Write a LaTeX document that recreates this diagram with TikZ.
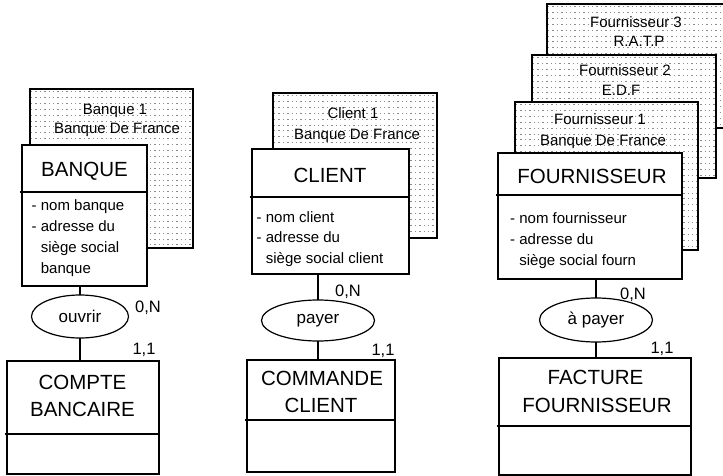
\documentclass[tikz,border=0pt]{standalone}
\usepackage{fontspec}
\setmainfont{Liberation Sans}
\usetikzlibrary{shapes.geometric}
\tikzset{
  box/.style={draw, line width=1.2pt, inner sep=0pt, outer sep=0pt, fill=white},
  rel/.style={ellipse, draw, line width=1.2pt, inner sep=0pt, outer sep=0pt, fill=white, font=\fontsize{17}{20}\selectfont},
  titletxt/.style={inner sep=0pt, anchor=base, font=\fontsize{20.5}{24}\selectfont},
  attr/.style={inner sep=0pt, anchor=base west, font=\fontsize{15}{18}\selectfont},
  cardtxt/.style={inner sep=0pt, anchor=base, font=\fontsize{15}{18}\selectfont},
  cardinal/.style={inner sep=0pt, anchor=base, font=\fontsize{16.5}{18}\selectfont},
  conn/.style={line width=1.2pt},
  dotrow/.style={black!45, line width=0.9pt, dash pattern=on 1.4pt off 3pt},
}
% #1 name, #2 x1, #3 y1, #4 x2, #5 y2 (y grows downwards)
\newcommand\mkcard[5]{%
  \node[box, anchor=north west, minimum width=#4-#2, minimum height=#5-#3] (#1) at (#2,#3) {};
  \begin{scope}
    \clip (#2,#3) rectangle (#4,#5);
    \foreach \k in {0,...,30}{
      \draw[dotrow] (#2+1,#3+2.5+5.9*\k) -- (#4,#3+2.5+5.9*\k);
    }
  \end{scope}
  \draw[line width=1.2pt] (#1.south west) rectangle (#1.north east);
}
\begin{document}
\begin{tikzpicture}[x=1pt,y=-1pt]
\useasboundingbox (0,0) rectangle (723,476);

% ---------- BANQUE ----------
\mkcard{cardb}{30}{89}{193}{248}
\node[cardtxt] (cb1) at (115,115) {Banque 1};
\node[cardtxt] (cb2) at (117,134) {Banque De France};

\node[box, minimum width=125, minimum height=141] (banque) at (84.5,215.5) {};
\draw[conn] ([xshift=-2.5pt]banque.west |- 0,192) -- (banque.east |- 0,192);
\node[titletxt] (tbanque) at (84.5,176.5) {BANQUE};
\node[attr] (ab1) at (31.5,211) {- nom banque};
\node[attr] (ab2) at (31.5,231.5) {- adresse du};
\node[attr] (ab3) at (31.5,252.5) {\phantom{- }siège social};
\node[attr] (ab4) at (31.5,273) {\phantom{- }banque};

\node[rel, minimum width=97, minimum height=43] (ouvrir) at (80,316.5) {ouvrir};
\node[cardinal] (nb1) at (148,312) {0,N};
\node[cardinal] (nb2) at (144,354) {1,1};

\node[box, minimum width=152, minimum height=113] (compte) at (83,417.5) {};
\draw[conn] ([xshift=-2.5pt]compte.west |- 0,434) -- (compte.east |- 0,434);
\node[titletxt] (tcompte1) at (82.5,389) {COMPTE};
\node[titletxt] (tcompte2) at (82.5,416) {BANCAIRE};

\draw[conn] (ouvrir.north) -- (ouvrir.north |- banque.south);
\draw[conn] (ouvrir.south) -- (ouvrir.south |- compte.north);

% ---------- CLIENT ----------
\mkcard{cardc}{273}{93}{437}{238}
\node[cardtxt] (cc1) at (353,119) {Client 1};
\node[cardtxt] (cc2) at (357,140) {Banque De France};

\node[box, minimum width=157, minimum height=125] (client) at (330.5,211.5) {};
\draw[conn] ([xshift=-2.5pt]client.west |- 0,197) -- (client.east |- 0,197);
\node[titletxt] (tclient) at (330,182.5) {CLIENT};
\node[attr] (ac1) at (256.5,222) {- nom client};
\node[attr] (ac2) at (256.5,242.5) {- adresse du};
\node[attr] (ac3) at (256.5,263) {\phantom{- }siège social client};

\node[rel, minimum width=113, minimum height=41] (payer) at (318,320.5) {payer};
\node[cardinal] (nc1) at (348,296) {0,N};
\node[cardinal] (nc2) at (383,355) {1,1};

\node[box, minimum width=148, minimum height=112] (commande) at (321,416) {};
\draw[conn] ([xshift=-2.5pt]commande.west |- 0,420) -- (commande.east |- 0,420);
\node[titletxt] (tcom1) at (322,385.5) {COMMANDE};
\node[titletxt] (tcom2) at (321,412.5) {CLIENT};

\draw[conn] (payer.north) -- (payer.north |- client.south);
\draw[conn] (payer.south) -- (payer.south |- commande.north);

% ---------- FOURNISSEUR ----------
\mkcard{cardf3}{547}{4}{735}{128}
\node[cardtxt] (cf31) at (636,28) {Fournisseur 3};
\node[cardtxt] (cf32) at (639,47) {R.A.T.P};
\mkcard{cardf2}{532}{55}{716}{178}
\node[cardtxt] (cf21) at (625,76) {Fournisseur 2};
\node[cardtxt] (cf22) at (621,95.5) {E.D.F};
\mkcard{cardf1}{515}{102}{698}{250}
\node[cardtxt] (cf11) at (600,125) {Fournisseur 1};
\node[cardtxt] (cf12) at (603,145.5) {Banque De France};

\node[box, minimum width=184, minimum height=126] (fourn) at (590,216) {};
\draw[conn] ([xshift=-2.5pt]fourn.west |- 0,195) -- (fourn.east |- 0,195);
\node[titletxt] (tfourn) at (592,183) {FOURNISSEUR};
\node[attr] (af1) at (510,223) {- nom fournisseur};
\node[attr] (af2) at (510,244) {- adresse du};
\node[attr] (af3) at (510,265) {\phantom{- }siège social fourn};

\node[rel, minimum width=113, minimum height=44] (apayer) at (596,320) {à payer};
\node[cardinal] (nf1) at (633,299) {0,N};
\node[cardinal] (nf2) at (662,353) {1,1};

\node[box, minimum width=192, minimum height=117] (facture) at (595,416.5) {};
\draw[conn] ([xshift=-2.5pt]facture.west |- 0,426) -- (facture.east |- 0,426);
\node[titletxt] (tfac1) at (595.5,384.5) {FACTURE};
\node[titletxt] (tfac2) at (597,412.5) {FOURNISSEUR};

\draw[conn] (apayer.north) -- (apayer.north |- fourn.south);
\draw[conn] (apayer.south) -- (apayer.south |- facture.north);
\end{tikzpicture}
\end{document}
